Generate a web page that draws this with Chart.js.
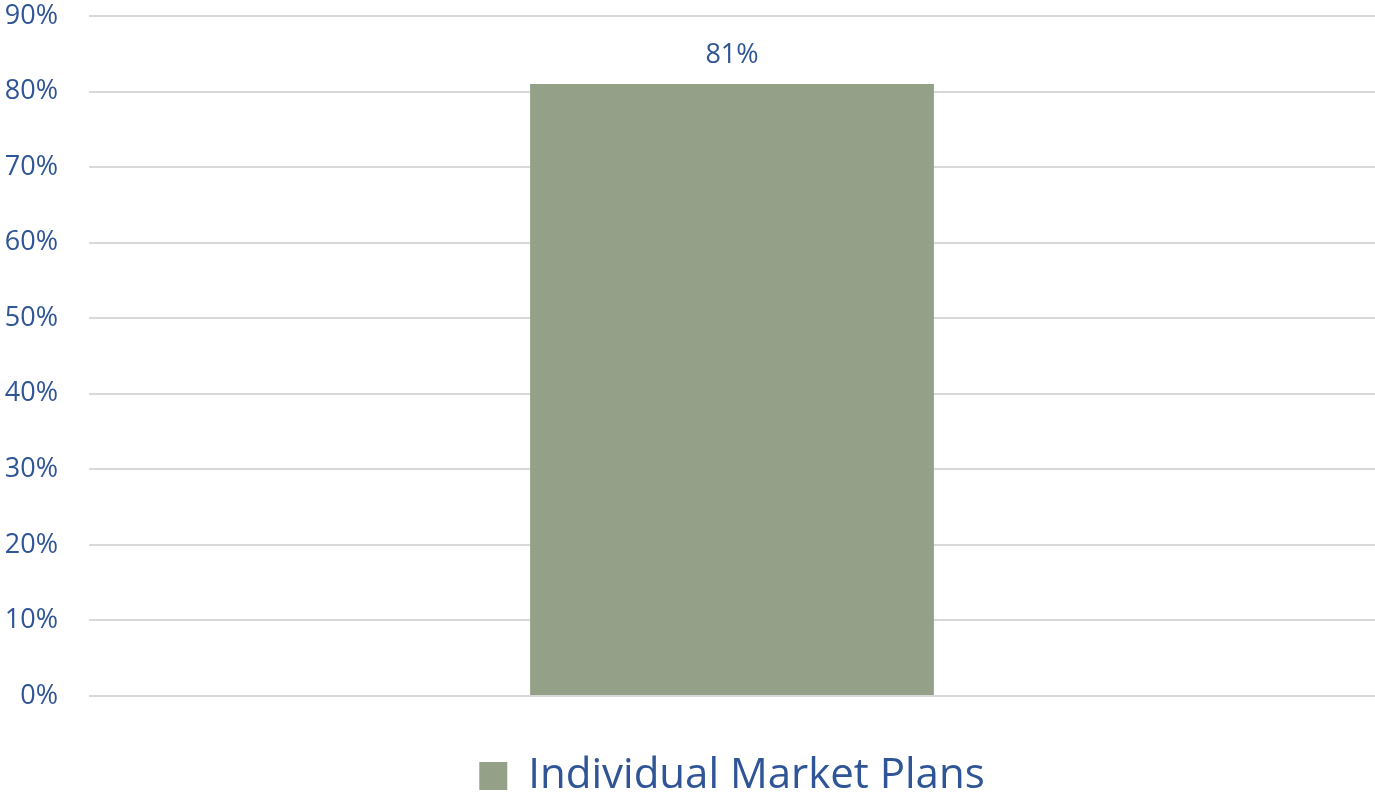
<!DOCTYPE html>
<html>
<head>
<meta charset="utf-8">
<script src="https://cdn.jsdelivr.net/npm/chart.js@4"></script>
<style>
  html, body { margin: 0; padding: 0; background: #fff; }
  #wrap { width: 1375px; height: 793px; position: relative; }
</style>
</head>
<body>
<div id="wrap"><canvas id="chart"></canvas></div>
<script>
const categories = ['Individual Market Plans']
const seriesName = 'Individual Market Plans'
const values = [81]
const yTicks = [0, 10, 20, 30, 40, 50, 60, 70, 80, 90]

const textColor = '#2F5597'

// draws the value above each bar
const valueLabels = {
    id: 'valueLabels',
    afterDatasetsDraw(chart) {
        const ctx = chart.ctx
        ctx.save()
        ctx.fillStyle = textColor
        ctx.font = '27px "Open Sans", sans-serif'
        ctx.textAlign = 'center'
        ctx.textBaseline = 'alphabetic'
        chart.getDatasetMeta(0).data.forEach((bar, i) => {
            ctx.fillText(values[i] + '%', bar.x, bar.y - 21)
        })
        ctx.restore()
    }
}

// legend sits lower than chart.js puts it (it keeps 10px spare below)
const legendNudge = {
    id: 'legendNudge',
    afterLayout(chart) {
        chart.legend.top += 14
        chart.legend.bottom += 14
    }
}

new Chart(document.getElementById('chart'), {
    type: 'bar',
    data: {
        labels: categories,
        datasets: [{
            label: seriesName,
            data: values,
            backgroundColor: '#94A087',
            barPercentage: 0.314,
            categoryPercentage: 1
        }]
    },
    options: {
        responsive: true,
        maintainAspectRatio: false,
        animation: false,
        layout: { padding: 0 },
        scales: {
            x: {
                ticks: { display: false },
                grid: { display: false },
                border: { display: false },
                afterFit(axis) { axis.height = 30 }
            },
            y: {
                min: 0,
                max: 90,
                afterBuildTicks(axis) {
                    axis.ticks = yTicks.map(v => ({ value: v }))
                },
                afterFit(axis) {
                    axis.width = 89
                    axis.paddingTop = 16
                    axis.paddingBottom = 16
                },
                ticks: {
                    color: textColor,
                    font: { size: 27, family: '"Open Sans", sans-serif' },
                    padding: 31,
                    callback: v => v + '%'
                },
                grid: { color: '#D9D9D9', lineWidth: 2, drawTicks: false },
                border: { display: false }
            }
        },
        plugins: {
            legend: {
                position: 'bottom',
                fullSize: false,
                labels: {
                    color: textColor,
                    font: { size: 42, family: '"Open Sans", sans-serif' },
                    boxWidth: 28,
                    boxHeight: 28,
                    padding: 15
                }
            },
            tooltip: { enabled: false }
        }
    },
    plugins: [valueLabels, legendNudge]
})
</script>
</body>
</html>
